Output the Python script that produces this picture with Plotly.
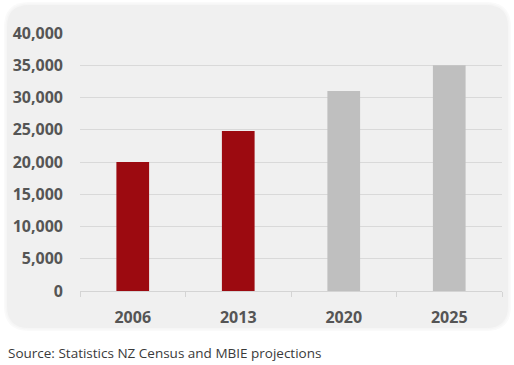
import plotly.graph_objects as go

years = ["2006", "2013", "2020", "2025"]
values = [20000, 24800, 31000, 35000]
bar_colors = ["#9c0a10", "#9c0a10", "#bfbfbf", "#bfbfbf"]
y_ticks = [0, 5000, 10000, 15000, 20000, 25000, 30000, 35000, 40000]
y_tick_labels = ["0", "5,000", "10,000", "15,000", "20,000", "25,000", "30,000", "35,000", "40,000"]
source_text = "Source: Statistics NZ Census and MBIE projections"

W, H = 514, 365
L, R, T, B = 80, 12, 33, 74
pw, ph = W - L - R, H - T - B

def px(x):
    return (x - L) / pw

def py(y):
    return (H - B - y) / ph

def rounded_path(x0, y0, x1, y1, r):
    pts = [
        f"M {px(x0 + r)},{py(y0)}",
        f"L {px(x1 - r)},{py(y0)}",
        f"Q {px(x1)},{py(y0)} {px(x1)},{py(y0 + r)}",
        f"L {px(x1)},{py(y1 - r)}",
        f"Q {px(x1)},{py(y1)} {px(x1 - r)},{py(y1)}",
        f"L {px(x0 + r)},{py(y1)}",
        f"Q {px(x0)},{py(y1)} {px(x0)},{py(y1 - r)}",
        f"L {px(x0)},{py(y0 + r)}",
        f"Q {px(x0)},{py(y0)} {px(x0 + r)},{py(y0)}",
        "Z",
    ]
    return " ".join(pts)

fig = go.Figure(go.Bar(x=years, y=values, marker_color=bar_colors, marker_line_width=0, width=0.31))

shapes = []
for i, c in enumerate(["#fafafa", "#f6f6f6"]):
    d = 3 - i * 1.5
    shapes.append(dict(type="path", xref="paper", yref="paper", layer="below",
                       path=rounded_path(7 - d, 5 - d, 508 + d, 328 + d, 22 + d),
                       fillcolor=c, line_width=0))
shapes.append(dict(type="path", xref="paper", yref="paper", layer="below",
                   path=rounded_path(7, 5, 508, 328, 22),
                   fillcolor="#f0f0f0", line_width=0))

fig.update_layout(
    width=W, height=H,
    margin=dict(l=L, r=R, t=T, b=B),
    paper_bgcolor="white",
    plot_bgcolor="rgba(0,0,0,0)",
    showlegend=False,
    shapes=shapes,
    font=dict(family="Open Sans", color="#555555"),
    xaxis=dict(
        showgrid=False, showline=True, linecolor="#d4d4d4", linewidth=1,
        ticks="outside", tickson="boundaries", ticklen=5, tickcolor="#d4d4d4",
        tickfont=dict(size=16, color="#555555", weight=700),
        ticklabelstandoff=12,
    ),
    yaxis=dict(
        range=[0, 40000], tickvals=y_ticks, ticktext=y_tick_labels,
        showgrid=True, gridcolor="#d9d9d9", gridwidth=1, zeroline=False,
        tickfont=dict(size=16, color="#555555", weight=700),
        ticklabelstandoff=16,
    ),
    annotations=[dict(
        text=source_text, xref="paper", yref="paper",
        x=px(6), y=py(353), xanchor="left", yanchor="middle", showarrow=False,
        font=dict(size=13.5, color="#3a3a3a", family="Open Sans"),
    )],
)

fig.write_html("out.html", config={"displayModeBar": False},
               post_script="document.body.style.margin='0px';document.body.style.padding='0px';")
